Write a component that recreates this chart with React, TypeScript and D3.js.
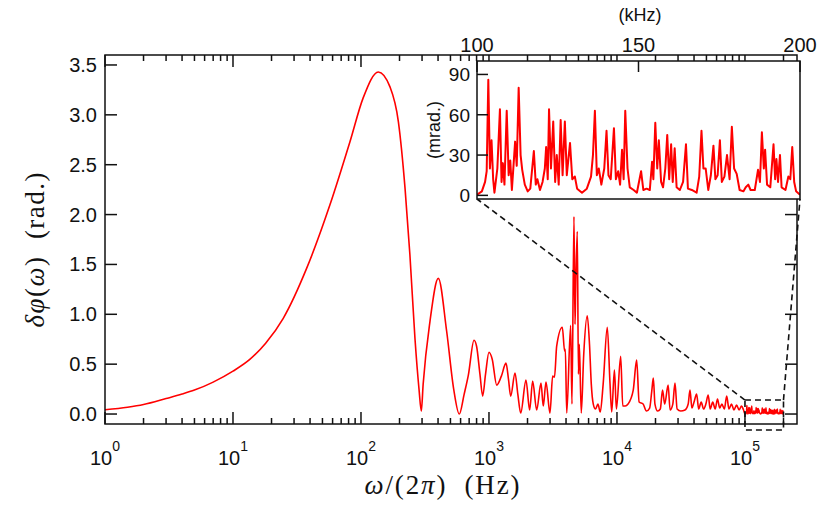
import { useRef, useEffect } from 'react';
import * as d3 from 'd3';

// main trace: [frequency (Hz), phase deviation (rad)]
const MAIN_CURVE: [number, number][] = [
  [1, 0.043], [1.5, 0.068], [2, 0.095], [3, 0.155], [4, 0.2], [5, 0.24], [7, 0.32],
  [10, 0.43], [13.6, 0.55], [18, 0.71], [24.7, 0.96], [37.6, 1.46], [57.3, 2.1],
  [82, 2.73], [104, 3.17], [136.6, 3.43], [168.5, 3.28], [196, 2.93], [221, 2.26],
  [241, 1.6], [264, 0.76], [284, 0.25], [296, 0.03], [306, 0.3], [346, 0.93],
  [402, 1.36], [467, 0.83], [530, 0.25], [586, 0.0], [640, 0.2], [690, 0.39],
  [764, 0.74], [800, 0.68], [850, 0.4], [893, 0.18], [940, 0.4], [1000, 0.62],
  [1060, 0.55], [1149, 0.29], [1250, 0.38], [1358, 0.51], [1420, 0.35], [1478, 0.18],
  [1597, 0.41], [1680, 0.2], [1770, 0.01], [1946, 0.34], [2078, 0.04], [2194, 0.33],
  [2359, 0.04], [2549, 0.31], [2656, 0.08], [2788, 0.32], [2997, 0.01], [3143, 0.38],
  [3250, 0.37], [3380, 0.68], [3740, 0.87], [3900, 0.63], [3950, 0.65], [4050, 0.01],
  [4345, 0.89], [4450, 0.1], [4613, 1.98], [4700, 0.9], [4750, 1.2], [4896, 1.83],
  [5000, 0.4], [5080, 0.7], [5260, 0.01], [5500, 0.6], [5860, 0.985], [6100, 0.7],
  [6300, 0.3], [6530, 0.1], [6800, 0.05], [7100, 0.1], [7400, 0.02], [7800, 0.3],
  [8400, 0.87], [8820, 0.31], [9100, 0.02], [9550, 0.44], [9900, 0.05], [10690, 0.58],
  [11100, 0.08], [11600, 0.08], [12200, 0.1], [13400, 0.24], [14250, 0.54],
  [14900, 0.12], [16000, 0.1], [17000, 0.03], [18000, 0.06], [18700, 0.23],
  [19230, 0.36], [19800, 0.1], [20800, 0.03], [21800, 0.05], [22700, 0.24],
  [23600, 0.1], [25100, 0.29], [26000, 0.04], [27300, 0.1], [28400, 0.31],
  [29500, 0.05], [31500, 0.03], [34000, 0.04], [36000, 0.1], [37200, 0.24],
  [38500, 0.06], [40000, 0.12], [41900, 0.2], [43500, 0.05], [45500, 0.12],
  [47500, 0.05], [49500, 0.1], [51600, 0.19], [53500, 0.05], [56000, 0.12],
  [58500, 0.05], [61000, 0.15], [63500, 0.06], [66000, 0.1], [69000, 0.05],
  [72000, 0.18], [75000, 0.05], [78500, 0.1], [82000, 0.04], [86000, 0.09],
  [90000, 0.04], [94000, 0.08], [97500, 0.04],
];

// zoomed trace: [frequency (kHz), phase deviation (mrad)]
const INSET_CURVE: [number, number][] = [
  [100, 0.5], [101.5, 3], [102.5, 10], [103, 18], [103.5, 86], [104, 20], [104.5, 41],
  [105, 12], [105.4, 2], [106.3, 20], [107.1, 64], [107.6, 10], [108, 24], [108.5, 8],
  [109.2, 63], [109.8, 15], [110.3, 26], [110.8, 4], [111.8, 40], [112.3, 22],
  [112.9, 80], [113.5, 30], [114, 19], [114.8, 8], [115.7, 3], [116.5, 5], [117.6, 33],
  [118.2, 8], [118.7, 12], [119.5, 4], [120.3, 10], [121, 20], [121.4, 36], [121.9, 12],
  [122.3, 64], [122.9, 20], [123.6, 55], [124.2, 10], [124.7, 30], [125.3, 8],
  [125.9, 56], [126.5, 15], [127.2, 55], [127.8, 15], [128.8, 39], [129.5, 12],
  [130.3, 14], [131, 5], [132.5, 2], [134, 5], [135.3, 14], [135.9, 30], [136.5, 63],
  [137.1, 15], [137.7, 20], [138.5, 8], [139.4, 20], [140.1, 48], [140.7, 15],
  [141.4, 12], [142.4, 50], [143, 12], [143.7, 18], [144.3, 8], [144.9, 34], [145.4, 12],
  [145.9, 63], [146.6, 20], [147.3, 6], [148.5, 4], [149.5, 2], [150.8, 18], [151.5, 4],
  [152.5, 5], [153.5, 4], [154.2, 25], [154.6, 12], [155.2, 54], [155.8, 20], [156.3, 41],
  [157, 10], [157.6, 6], [158.3, 20], [158.9, 45], [159.5, 12], [160.1, 38], [160.6, 10],
  [161.2, 35], [161.8, 6], [162.8, 4], [163.8, 10], [164.7, 38], [165.3, 5], [166.5, 4],
  [168, 2], [168.8, 14], [169.5, 48], [170.1, 20], [170.8, 20], [171.6, 4], [172.4, 15],
  [173.2, 37], [173.8, 12], [174.5, 15], [175.2, 41], [175.8, 10], [176.6, 14],
  [177.4, 30], [178.2, 12], [178.9, 51], [179.6, 20], [180.4, 16], [181.3, 4],
  [182.5, 3], [183.2, 6], [184, 8], [184.7, 4], [186, 4], [187, 19], [187.6, 10],
  [188.2, 47], [188.8, 20], [189.2, 34], [189.8, 8], [190.8, 6], [191.8, 38], [192.3, 12],
  [192.7, 27], [193.2, 10], [193.8, 30], [194.3, 6], [195.5, 4], [196.4, 14], [197, 12],
  [197.6, 36], [198.2, 10], [198.8, 3], [200, 0.5],
];

const Y_TICKS = [0, 0.5, 1, 1.5, 2, 2.5, 3, 3.5];
const X_DECADES = [0, 1, 2, 3, 4, 5];
const INSET_X_TICKS = [100, 150, 200];
const INSET_Y_TICKS = [0, 30, 60, 90];
const ZOOM_BOX = { f0: 1e5, f1: 2e5, top: 0.14, bottom: -0.16 };

const SANS = '"Liberation Sans", Arial, sans-serif';
const SERIF = '"Liberation Serif", "DejaVu Serif", serif';
const RED = '#ff0000';
const INK = '#111';

export default function App() {
  const svgRef = useRef<SVGSVGElement>(null);

  useEffect(() => {
    document.body.style.margin = '0';
    if (!svgRef.current) return;
    const svg = d3.select(svgRef.current);
    svg.selectAll('*').remove();

    const W = 830;
    const H = 523;
    svg.attr('width', W).attr('height', H);

    const left = 105, right = 797, top = 55, bottom = 424;
    const x = d3.scaleLog().domain([1, 2.55e5]).range([left, right]);
    const y = d3.scaleLinear().domain([-0.1, 3.6]).range([bottom, top]);

    const defs = svg.append('defs');
    defs.append('clipPath').attr('id', 'main-clip')
      .append('rect').attr('x', left).attr('y', top)
      .attr('width', right - left).attr('height', bottom - top);

    // main trace, continues with the zoomed data beyond 100 kHz
    const full: [number, number][] = [
      ...MAIN_CURVE,
      ...INSET_CURVE.map(([k, m]) => [k * 1000, m / 1000] as [number, number]),
    ];
    const line = d3.line<[number, number]>()
      .x((d) => x(d[0]))
      .y((d) => y(d[1]))
      .curve(d3.curveMonotoneX);
    svg.append('path')
      .datum(full)
      .attr('clip-path', 'url(#main-clip)')
      .attr('fill', 'none')
      .attr('stroke', RED)
      .attr('stroke-width', 1.6)
      .attr('stroke-linejoin', 'round')
      .attr('d', line);

    // ticks, mirrored on all sides
    const tk = svg.append('g').attr('stroke', INK).attr('stroke-width', 1.5);
    x.ticks().forEach((t) => {
      const major = Math.abs(Math.log10(t) - Math.round(Math.log10(t))) < 1e-9;
      const len = major ? 12 : 6;
      const px = x(t);
      tk.append('line').attr('x1', px).attr('x2', px).attr('y1', bottom).attr('y2', bottom - len);
      tk.append('line').attr('x1', px).attr('x2', px).attr('y1', top).attr('y2', top + len);
    });
    Y_TICKS.forEach((t) => {
      const py = y(t);
      tk.append('line').attr('x1', left).attr('x2', left + 12).attr('y1', py).attr('y2', py);
      tk.append('line').attr('x1', right).attr('x2', right - 12).attr('y1', py).attr('y2', py);
    });

    svg.append('rect')
      .attr('x', left).attr('y', top)
      .attr('width', right - left).attr('height', bottom - top)
      .attr('fill', 'none').attr('stroke', INK).attr('stroke-width', 1.5);

    // tick labels
    svg.append('g')
      .selectAll('text')
      .data(Y_TICKS)
      .join('text')
      .attr('x', left - 8)
      .attr('y', (d) => y(d) + 7)
      .attr('text-anchor', 'end')
      .attr('font-family', SANS)
      .attr('font-size', 20)
      .attr('fill', INK)
      .text((d) => d.toFixed(1));

    X_DECADES.forEach((n) => {
      const t = svg.append('text')
        .attr('x', x(Math.pow(10, n)))
        .attr('y', 465)
        .attr('text-anchor', 'middle')
        .attr('font-family', SANS)
        .attr('fill', INK);
      t.append('tspan').attr('font-size', 20).text('10');
      t.append('tspan').attr('font-size', 14).attr('dy', -14).text(String(n));
    });

    // axis titles
    const xt = svg.append('text')
      .attr('x', 442).attr('y', 494)
      .attr('text-anchor', 'middle')
      .attr('font-family', SERIF).attr('font-size', 27).attr('fill', INK)
      .attr('textLength', 155).attr('lengthAdjust', 'spacing');
    xt.append('tspan').attr('font-style', 'italic').text('ω');
    xt.append('tspan').text('/(2');
    xt.append('tspan').attr('font-style', 'italic').text('π');
    xt.append('tspan').text(')\u00a0\u00a0(Hz)');

    const yt = svg.append('text')
      .attr('transform', 'translate(44,250) rotate(-90)')
      .attr('text-anchor', 'middle')
      .attr('font-family', SERIF).attr('font-size', 27).attr('fill', INK)
      .attr('textLength', 155).attr('lengthAdjust', 'spacing');
    yt.append('tspan').attr('font-style', 'italic').text('δφ');
    yt.append('tspan').text('(');
    yt.append('tspan').attr('font-style', 'italic').text('ω');
    yt.append('tspan').text(')\u00a0\u00a0(rad.)');

    // inset
    const il = 477, ir = 800, it = 61, ib = 199;
    const xi = d3.scaleLinear().domain([100, 200]).range([il, ir]);
    const yi = d3.scaleLinear().domain([-2.7, 100]).range([ib, it]);

    // zoom box and connectors
    const dash = svg.append('g')
      .attr('fill', 'none').attr('stroke', INK)
      .attr('stroke-width', 1.6).attr('stroke-dasharray', '6,4');
    const bx0 = x(ZOOM_BOX.f0), bx1 = x(ZOOM_BOX.f1);
    const by0 = y(ZOOM_BOX.top), by1 = y(ZOOM_BOX.bottom);
    dash.append('rect').attr('x', bx0).attr('y', by0).attr('width', bx1 - bx0).attr('height', by1 - by0);
    dash.append('line').attr('x1', bx0).attr('y1', by0).attr('x2', il).attr('y2', ib);
    dash.append('line').attr('x1', bx1).attr('y1', by0).attr('x2', ir).attr('y2', ib);

    svg.append('rect')
      .attr('x', il).attr('y', it).attr('width', ir - il).attr('height', ib - it)
      .attr('fill', '#fff');

    defs.append('clipPath').attr('id', 'inset-clip')
      .append('rect').attr('x', il).attr('y', it)
      .attr('width', ir - il).attr('height', ib - it);

    const iline = d3.line<[number, number]>()
      .x((d) => xi(d[0]))
      .y((d) => yi(d[1]));
    svg.append('path')
      .datum(INSET_CURVE)
      .attr('clip-path', 'url(#inset-clip)')
      .attr('fill', 'none')
      .attr('stroke', RED)
      .attr('stroke-width', 2)
      .attr('stroke-linejoin', 'round')
      .attr('d', iline);

    const itk = svg.append('g').attr('stroke', INK).attr('stroke-width', 1.5);
    INSET_Y_TICKS.forEach((t) => {
      itk.append('line').attr('x1', il).attr('x2', il + 11).attr('y1', yi(t)).attr('y2', yi(t));
    });
    INSET_X_TICKS.forEach((t) => {
      itk.append('line').attr('x1', xi(t)).attr('x2', xi(t)).attr('y1', it).attr('y2', it + 11);
    });
    svg.append('rect')
      .attr('x', il).attr('y', it).attr('width', ir - il).attr('height', ib - it)
      .attr('fill', 'none').attr('stroke', INK).attr('stroke-width', 1.5);

    svg.append('g')
      .selectAll('text')
      .data(INSET_X_TICKS)
      .join('text')
      .attr('x', (d) => xi(d))
      .attr('y', 52)
      .attr('text-anchor', 'middle')
      .attr('font-family', SANS).attr('font-size', 20).attr('fill', INK)
      .text((d) => String(d));

    svg.append('g')
      .selectAll('text')
      .data(INSET_Y_TICKS)
      .join('text')
      .attr('x', il - 7)
      .attr('y', (d) => yi(d) + 7)
      .attr('text-anchor', 'end')
      .attr('font-family', SANS).attr('font-size', 19).attr('fill', INK)
      .text((d) => String(d));

    svg.append('text')
      .attr('x', 640).attr('y', 21)
      .attr('text-anchor', 'middle')
      .attr('font-family', SANS).attr('font-size', 18).attr('fill', INK)
      .text('(kHz)');

    svg.append('text')
      .attr('transform', `translate(440,${(it + ib) / 2}) rotate(-90)`)
      .attr('text-anchor', 'middle')
      .attr('font-family', SANS).attr('font-size', 18).attr('fill', INK)
      .text('(mrad.)');
  }, []);

  return <svg ref={svgRef} style={{ display: 'block' }} />;
}
